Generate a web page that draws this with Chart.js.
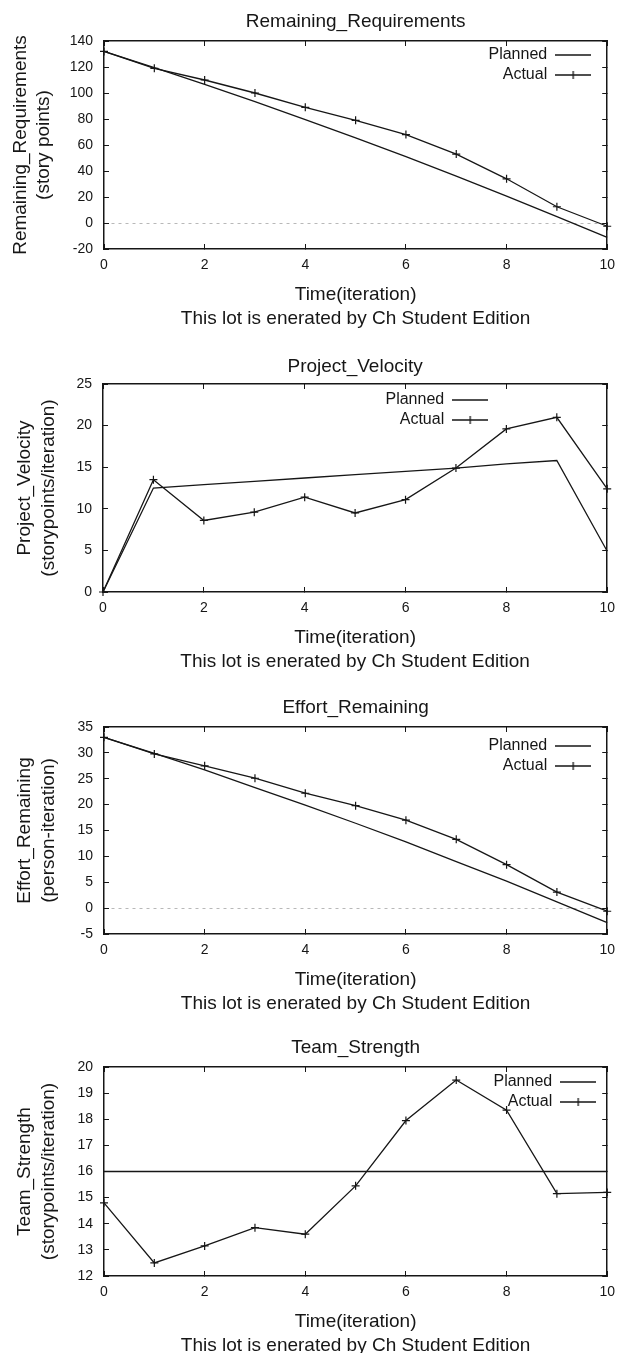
<!DOCTYPE html>
<html>
<head>
<meta charset="utf-8">
<script src="https://cdn.jsdelivr.net/npm/chart.js@4.4.0/dist/chart.umd.min.js"></script>
<style>
  html, body { margin: 0; padding: 0; background: #fff; width: 628px; height: 1353px; overflow: hidden; }
  .box { position: absolute; left: 0; width: 628px; height: 342px; }
</style>
</head>
<body>
<div class="box" style="top:0px"><canvas id="chartReq"></canvas></div>
<div class="box" style="top:343px"><canvas id="chartVel"></canvas></div>
<div class="box" style="top:686px"><canvas id="chartEffort"></canvas></div>
<div class="box" style="top:1026px"><canvas id="chartTeam"></canvas></div>
<script>
// iterations (x) and tick labels
const iterations = [0, 1, 2, 3, 4, 5, 6, 7, 8, 9, 10];
const xTicks     = [0, 2, 4, 6, 8, 10];
const seriesNames = ['Planned', 'Actual'];
const footer = 'This lot is enerated by Ch Student Edition';

// Remaining_Requirements
const reqTicks   = [-20, 0, 20, 40, 60, 80, 100, 120, 140];
const reqPlanned = [132, 119.5, 106.6, 93.3, 79.6, 65.5, 51, 36.1, 20.7, 4.9, -11];
const reqActual  = [132, 119, 110, 100, 89, 79, 68, 53, 34, 12.5, -2.5];

// Project_Velocity
const velTicks   = [0, 5, 10, 15, 20, 25];
const velPlanned = [0, 12.5, 12.9, 13.3, 13.7, 14.1, 14.5, 14.9, 15.4, 15.8, 4.9];
const velActual  = [0, 13.5, 8.6, 9.6, 11.4, 9.5, 11.1, 14.9, 19.6, 21.0, 12.4];

// Effort_Remaining
const effTicks   = [-5, 0, 5, 10, 15, 20, 25, 30, 35];
const effPlanned = [33, 29.9, 26.7, 23.3, 19.9, 16.4, 12.8, 9.0, 5.2, 1.2, -2.8];
const effActual  = [33, 29.8, 27.5, 25.1, 22.2, 19.8, 17.0, 13.3, 8.4, 3.1, -0.6];

// Team_Strength
const teamTicks   = [12, 13, 14, 15, 16, 17, 18, 19, 20];
const teamPlanned = [16, 16, 16, 16, 16, 16, 16, 16, 16, 16, 16];
const teamActual  = [14.8, 12.5, 13.15, 13.85, 13.6, 15.45, 17.95, 19.5, 18.35, 15.15, 15.2];

const INK = '#161616';
const LH = 1.25;          // line height for titles
const BIG = 19;           // title font size
Chart.defaults.font.family = '"Liberation Sans", Arial, Helvetica, sans-serif';
Chart.defaults.color = INK;

// legend samples: plain line / line with a "+"
function sample(cross) {
  const c = document.createElement('canvas');
  c.width = 36; c.height = 10;
  const g = c.getContext('2d');
  g.strokeStyle = INK; g.lineWidth = 1.3;
  g.beginPath(); g.moveTo(0, 5); g.lineTo(36, 5);
  if (cross) { g.moveTo(18, 1); g.lineTo(18, 9); }
  g.stroke();
  return c;
}
const samples = [sample(false), sample(true)];

// moves the legend into the top-right part of the plot (gnuplot style)
const legendInside = {
  id: 'legendInside',
  afterLayout(chart, args, opts) {
    const L = chart.legend, a = chart.chartArea, pad = 4;
    L.left = a.right - opts.right + pad - L.width;
    L.right = L.left + L.width;
    L.top = a.top + opts.top;
    L.bottom = L.top + L.height;
  }
};

const setTicks = list => s => { s.ticks = list.map(v => ({ value: v })); };
const pts = ys => iterations.map((t, i) => ({ x: t, y: ys[i] }));

function makeChart(id, title, yTitle, yTicks, planned, actual, L) {
  const H = 342;
  const top = 41;
  const titlePadTop = top - L.titleOff - BIG * LH / 2;
  const frame = { color: INK, width: 1.5 };
  const tickGrid = { drawOnChartArea: false, tickLength: -5, tickColor: INK, tickWidth: 1 };

  new Chart(document.getElementById(id), {
    type: 'line',
    data: {
      datasets: [
        { label: seriesNames[0], data: pts(planned), borderColor: INK, borderWidth: 1.3, pointRadius: 0, clip: false },
        { label: seriesNames[1], data: pts(actual), borderColor: INK, borderWidth: 1.3,
          pointStyle: 'cross', pointRadius: 4, pointBorderWidth: 1.2, pointBorderColor: INK, clip: false },
      ],
    },
    options: {
      responsive: true,
      maintainAspectRatio: false,
      animation: false,
      layout: { padding: { left: 0, right: 628 - L.right, top: 0, bottom: 0 } },
      plugins: {
        title: {
          display: true, text: title, fullSize: false, color: INK,
          font: { size: BIG, weight: 'normal', lineHeight: LH },
          padding: { top: titlePadTop, bottom: top - BIG * LH - titlePadTop },
        },
        legend: {
          position: 'chartArea', fullSize: false, align: 'start', rtl: true,
          labels: {
            usePointStyle: true, pointStyleWidth: 36, boxHeight: 16, padding: 4,
            color: INK, font: { size: 16 }, textAlign: 'left',
            generateLabels: chart => Chart.defaults.plugins.legend.labels.generateLabels(chart)
              .map((it, i) => ({ ...it, pointStyle: samples[i], fontColor: INK })),
          },
        },
        legendInside: { right: L.legRight, top: L.legTop },
        tooltip: { enabled: false },
      },
      scales: {
        x: {
          type: 'linear', position: 'bottom', min: 0, max: 10,
          afterBuildTicks: setTicks(xTicks),
          afterFit: s => { s.height = H - top - L.plotH; },
          ticks: { font: { size: 14 }, color: INK, padding: 13, maxRotation: 0, autoSkip: false },
          grid: tickGrid,
          border: frame,
          title: {
            display: true, text: ['Time(iteration)', footer], color: INK,
            font: { size: BIG, lineHeight: LH },
            padding: { top: 0, bottom: H - BIG * LH / 2 - (top + L.plotH + 70) },
          },
        },
        x2: {
          type: 'linear', position: 'top', min: 0, max: 10,
          afterBuildTicks: setTicks(xTicks),
          afterFit: s => { s.height = 0; },
          ticks: { display: false },
          grid: tickGrid,
          border: frame,
        },
        y: {
          type: 'linear', position: 'left', min: yTicks[0], max: yTicks[yTicks.length - 1],
          afterBuildTicks: setTicks(yTicks),
          afterFit: s => { s.width = L.left; },
          ticks: { font: { size: 14 }, color: INK, padding: 16 },
          grid: {
            drawOnChartArea: L.zero,
            color: c => (c.tick && c.tick.value === 0) ? '#b8b8b8' : 'rgba(0,0,0,0)',
            tickLength: -5, tickColor: INK, tickWidth: 1, tickBorderDash: [],
          },
          border: { color: INK, width: 1.5, dash: [3, 4] },
          title: {
            display: true, text: yTitle, color: INK,
            font: { size: BIG, lineHeight: LH },
            padding: { top: L.yTitleX - BIG * LH / 2 },
          },
        },
        y2: {
          type: 'linear', position: 'right', min: yTicks[0], max: yTicks[yTicks.length - 1],
          afterBuildTicks: setTicks(yTicks),
          afterFit: s => { s.width = 0; },
          ticks: { display: false },
          grid: tickGrid,
          border: frame,
        },
      },
    },
    plugins: [legendInside],
  });
}

makeChart('chartReq', 'Remaining_Requirements', ['Remaining_Requirements', '(story points)'],
  reqTicks, reqPlanned, reqActual,
  { left: 104, right: 610, plotH: 208, titleOff: 19, yTitleX: 20.5, legRight: 16, legTop: 2, zero: true });

makeChart('chartVel', 'Project_Velocity', ['Project_Velocity', '(storypoints/iteration)'],
  velTicks, velPlanned, velActual,
  { left: 103, right: 618, plotH: 208, titleOff: 17, yTitleX: 25, legRight: 119, legTop: 4, zero: false });

makeChart('chartEffort', 'Effort_Remaining', ['Effort_Remaining', '(person-iteration)'],
  effTicks, effPlanned, effActual,
  { left: 104, right: 618, plotH: 207, titleOff: 19, yTitleX: 25, legRight: 16, legTop: 7, zero: true });

makeChart('chartTeam', 'Team_Strength', ['Team_Strength', '(storypoints/iteration)'],
  teamTicks, teamPlanned, teamActual,
  { left: 104, right: 618, plotH: 209, titleOff: 19, yTitleX: 25, legRight: 11, legTop: 3, zero: false });
</script>
</body>
</html>
